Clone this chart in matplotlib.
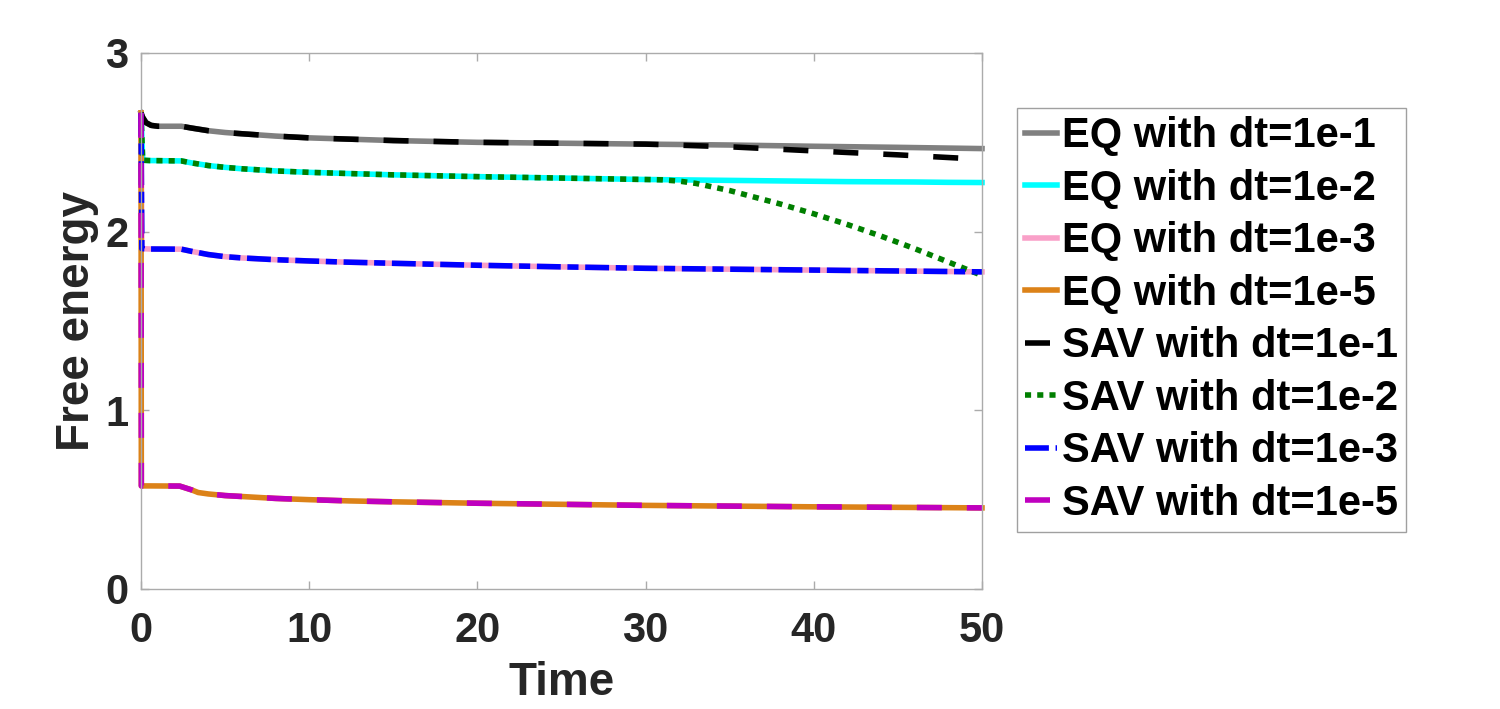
import numpy as np
import matplotlib
matplotlib.use('Agg')
import matplotlib.pyplot as plt

# free energy curves
t_1e1 = [0, 0.1, 0.3, 0.6, 1.0, 2.4, 3, 4, 5, 6, 8, 10, 15, 20, 25, 30, 35, 40, 45, 50]
eq_1e1 = [2.665, 2.64, 2.61, 2.595, 2.59, 2.59, 2.58, 2.565, 2.555, 2.548, 2.535, 2.525,
          2.51, 2.50, 2.495, 2.49, 2.485, 2.478, 2.472, 2.465]
sav_1e1 = [2.665, 2.64, 2.61, 2.595, 2.59, 2.59, 2.58, 2.565, 2.555, 2.548, 2.535, 2.525,
           2.51, 2.50, 2.495, 2.49, 2.475, 2.452, 2.43, 2.405]

t_1e2 = [0, 0.1, 0.5, 2.4, 3, 4, 5, 6, 8, 10, 15, 20, 25, 30, 31, 32, 33, 34, 35, 36,
         38, 40, 42, 44, 46, 48, 50]
eq_1e2 = [2.665, 2.40, 2.398, 2.396, 2.385, 2.37, 2.36, 2.352, 2.34, 2.332, 2.318, 2.308,
          2.30, 2.292, 2.291, 2.29, 2.289, 2.288, 2.287, 2.286, 2.284, 2.282, 2.28, 2.279,
          2.278, 2.276, 2.275]
sav_1e2 = [2.665, 2.40, 2.398, 2.396, 2.385, 2.37, 2.36, 2.352, 2.34, 2.332, 2.318, 2.308,
           2.30, 2.292, 2.29, 2.283, 2.27, 2.25, 2.23, 2.205, 2.155, 2.10, 2.04, 1.975,
           1.905, 1.83, 1.755]

t_1e3 = [0, 0.05, 0.5, 2.4, 3, 4, 5, 6, 8, 10, 12, 15, 20, 25, 30, 35, 40, 45, 50]
eq_1e3 = [2.665, 1.905, 1.903, 1.902, 1.89, 1.872, 1.86, 1.853, 1.843, 1.836, 1.83, 1.823,
          1.812, 1.803, 1.795, 1.79, 1.785, 1.78, 1.775]
sav_1e3 = eq_1e3

t_1e5 = [0, 0.02, 0.5, 2.3, 3, 3.4, 4, 5, 6.5, 8, 10, 12.4, 15, 20, 25, 30, 35, 40, 45, 50]
eq_1e5 = [2.665, 0.577, 0.577, 0.576, 0.555, 0.54, 0.532, 0.523, 0.515, 0.507, 0.5, 0.493,
          0.488, 0.48, 0.474, 0.468, 0.464, 0.46, 0.457, 0.454]
sav_1e5 = eq_1e5

plt.rcParams['font.family'] = ['Liberation Sans', 'DejaVu Sans']
plt.rcParams['font.weight'] = 'bold'

fig = plt.figure(figsize=(15, 7.09), dpi=100)
ax = fig.add_axes([141/1500, 1-589/709, (982-141)/1500, (589-53)/709])

lw = 4
ax.plot(t_1e1, eq_1e1, color='#808080', lw=lw, label='EQ with dt=1e-1', clip_on=False)
ax.plot(t_1e2, eq_1e2, color='#00FFFF', lw=lw, label='EQ with dt=1e-2', clip_on=False)
ax.plot(t_1e3, eq_1e3, color='#F9A0C8', lw=lw, label='EQ with dt=1e-3', clip_on=False)
ax.plot(t_1e5, eq_1e5, color='#DC8218', lw=lw, label='EQ with dt=1e-5', clip_on=False)
ax.plot(t_1e1, sav_1e1, color='black', lw=lw, dashes=(4.5, 4.5),
        label='SAV with dt=1e-1', clip_on=False)
ax.plot(t_1e2, sav_1e2, color='#007F00', lw=lw, dashes=(1.1, 1.1),
        label='SAV with dt=1e-2', clip_on=False)
ax.plot(t_1e3, sav_1e3, color='#0000FF', lw=lw, dashes=(4.3, 1.2, 2.0, 1.2),
        label='SAV with dt=1e-3', clip_on=False)
ax.plot(t_1e5, sav_1e5, color='#BF00BF', lw=lw, dashes=(4.5, 4.5),
        label='SAV with dt=1e-5', clip_on=False)

ax.set_xlim(0, 50)
ax.set_ylim(0, 3)
ax.set_xticks([0, 10, 20, 30, 40, 50])
ax.set_yticks([0, 1, 2, 3])

for s in ax.spines.values():
    s.set_color('#ababab')
    s.set_linewidth(1)
ax.tick_params(direction='in', length=6, width=1, color='#ababab', labelcolor='#262626',
               labelsize=30, top=True, right=True)
ax.tick_params(axis='x', pad=16)
ax.tick_params(axis='y', pad=9)
for lab in ax.get_xticklabels() + ax.get_yticklabels():
    lab.set_fontweight('bold')

ax.set_xlabel('Time', fontsize=33, fontweight='bold', color='#262626')
ax.set_ylabel('Free energy', fontsize=33, fontweight='bold', color='#262626')
ax.xaxis.set_label_coords(0.5, -0.135)
ax.yaxis.set_label_coords(-0.05, 0.5)

leg = ax.legend(loc='upper left', bbox_to_anchor=(1017/1500, 1-108/709),
                bbox_transform=fig.transFigure, borderaxespad=0,
                prop={'weight': 'bold', 'size': 30}, handlelength=0.75,
                handletextpad=0.12, borderpad=0.2, labelspacing=0.3,
                fancybox=False, framealpha=1, edgecolor='#a0a0a0')
leg.get_frame().set_linewidth(1)

fig.savefig('out.png', dpi=100)
